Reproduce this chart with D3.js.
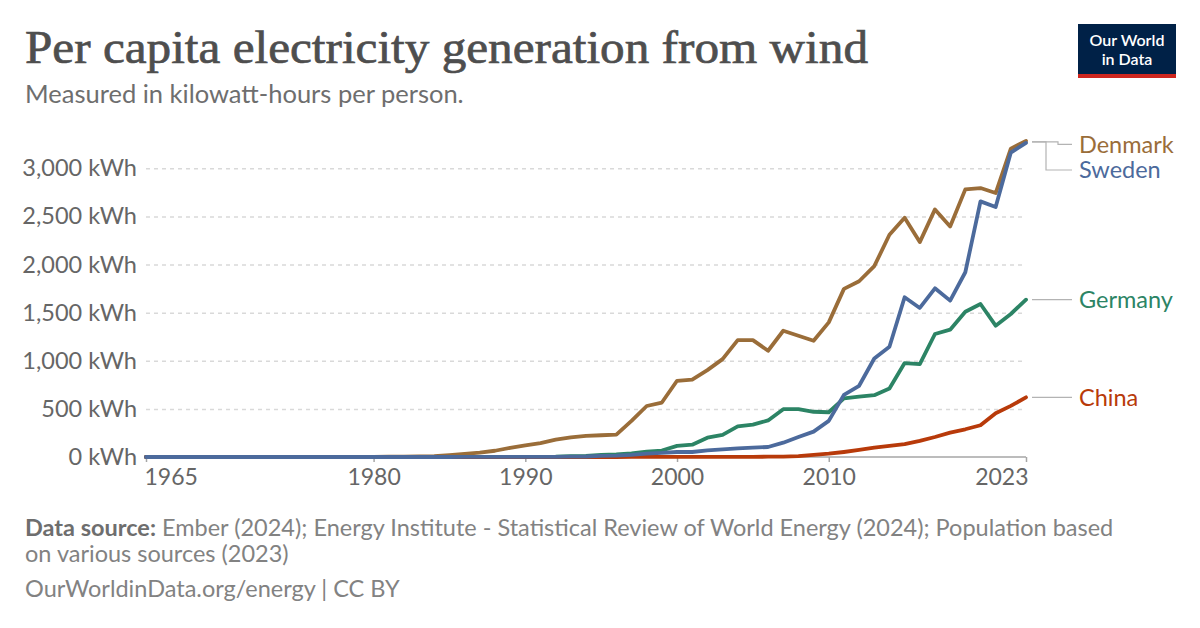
<!DOCTYPE html>
<html>
<head>
<meta charset="utf-8">
<script src="https://cdn.jsdelivr.net/npm/d3@7"></script>
<style>
  html, body { margin: 0; padding: 0; background: #fff; }
  svg { display: block; }
  text { font-family: Lato, "Noto Sans", sans-serif; }
</style>
</head>
<body>
<svg id="chart" width="1200" height="628"></svg>
<script>
// ---------- DATA ----------
const years = d3.range(1965, 2024);
const denmark = [
  0,0,0,0,0,0,0,0,0,0,0,0,0,            // 1965-1977
  0.5,1,2,3,4,6,10,                     // 1978-1984
  20,33,45,65,95,120,145,180,205,220,   // 1985-1994
  226,232,375,530,566,                  // 1995-1999
  792,805,903,1017,1215,1215,1104,1312,1260,1208, // 2000-2009
  1399,1747,1826,1983,2309,2486,2233,2573,2396,2781, // 2010-2019
  2795,2743,3205,3285                   // 2020-2023
];
const sweden = [
  0,0,0,0,0,0,0,0,0,0,0,0,0,0,0,0,0,    // 1965-1981
  0.1,0.1,0.2,0.2,0.3,0.3,0.4,0.4,      // 1982-1989
  0.5,1,2,3,5,11,14,23,36,42,           // 1990-1999
  52,52,69,80,90,97,104,149,208,264,    // 2000-2009
  375,646,740,1024,1146,1660,1549,1753,1625,1920, // 2010-2019
  2656,2597,3163,3264                   // 2020-2023
];
const germany = [
  0,0,0,0,0,0,0,0,0,0,0,0,0,0,0,0,0,0,0,0,0,0,0,0,0, // 1965-1989
  1,2,3,8,11,21,26,37,55,67,            // 1990-1999
  115,128,201,230,318,336,380,497,498,470, // 2000-2009
  465,610,628,642,712,976,965,1278,1323,1510, // 2010-2019
  1590,1365,1486,1635                   // 2020-2023
];
const china = [
  0,0,0,0,0,0,0,0,0,0,0,0,0,0,0,0,0,0,0,0,0,0,0,0,0, // 1965-1989
  0,0,0,0,0,0.1,0.2,0.3,0.4,0.5,        // 1990-1999
  0.5,0.6,0.7,0.8,1,1.5,3,4,10,21,      // 2000-2009
  34,52,73,97,115,134,167,208,253,288,  // 2010-2019
  330,455,531,620                       // 2020-2023
];
const seriesNames = ["Denmark", "Germany", "China", "Sweden"];
const seriesColors = ["#9a6d39", "#2c8465", "#b83a0a", "#4c6a9c"];
const seriesValues = [denmark, germany, china, sweden];
const yTicks = [0, 500, 1000, 1500, 2000, 2500, 3000];
const xTicks = [1965, 1980, 1990, 2000, 2010, 2023];

// ---------- LAYOUT ----------
const svg = d3.select("#chart");
const x = d3.scaleLinear().domain([1965, 2023]).range([146, 1026]);
const y = d3.scaleLinear().domain([0, 3000]).range([457, 168.3]);

// Title
svg.append("text")
  .attr("x", 25).attr("y", 63)
  .attr("fill", "#4e4e4e")
  .attr("stroke", "#4e4e4e").attr("stroke-width", 0.7)
  .style("font-family", "'Liberation Serif', 'DejaVu Serif', serif")
  .style("font-size", "46px")
  .attr("textLength", 843).attr("lengthAdjust", "spacingAndGlyphs")
  .text("Per capita electricity generation from wind");

svg.append("text")
  .attr("x", 25).attr("y", 103)
  .attr("fill", "#6e6e6e")
  .style("font-size", "25.5px")
  .text("Measured in kilowatt-hours per person.");

// Logo
const logo = svg.append("g");
logo.append("rect").attr("x", 1078).attr("y", 24).attr("width", 98).attr("height", 54).attr("fill", "#002147");
logo.append("rect").attr("x", 1078).attr("y", 74).attr("width", 98).attr("height", 4).attr("fill", "#ce261e");
logo.append("text").attr("x", 1127).attr("y", 46).attr("text-anchor", "middle")
  .attr("fill", "#fff").style("font-size", "16px").style("font-weight", "600").text("Our World");
logo.append("text").attr("x", 1127).attr("y", 65).attr("text-anchor", "middle")
  .attr("fill", "#fff").style("font-size", "16px").style("font-weight", "600").text("in Data");

// Grid lines + y labels
const yAxis = d3.axisLeft(y).tickValues(yTicks)
  .tickSize(0)
  .tickFormat(d => d3.format(",")(d) + " kWh");
const gy = svg.append("g").attr("transform", "translate(146,0)").call(yAxis);
gy.select(".domain").remove();
gy.selectAll("text")
  .attr("x", -9)
  .attr("fill", "#666")
  .style("font-size", "23.5px")
  .style("font-family", "Lato, sans-serif");
gy.selectAll(".tick").filter(d => d !== 0).append("line")
  .attr("x1", 0).attr("x2", 880)
  .attr("stroke", "#d9d9d9")
  .attr("stroke-width", 1.5)
  .attr("stroke-dasharray", "4,4");

// X axis
const xAxis = d3.axisBottom(x).tickValues(xTicks).tickSize(5).tickFormat(d3.format("d"));
const gx = svg.append("g").attr("transform", "translate(0,457)").call(xAxis);
gx.select(".domain").attr("stroke", "#a6a6a6").attr("stroke-width", 1.5).attr("d", "M146,0H1026");
gx.selectAll(".tick line").attr("stroke", "#a6a6a6").attr("stroke-width", 1.5);
gx.selectAll(".tick text")
  .attr("y", 12)
  .attr("fill", "#666")
  .style("font-size", "23px")
  .style("font-family", "Lato, sans-serif")
  .attr("text-anchor", d => d === 1965 ? "start" : (d === 2023 ? "end" : "middle"))
  .attr("x", d => d === 1965 ? -2 : (d === 2023 ? 2 : 0));

// Lines
const line = d3.line().x((d, i) => x(years[i])).y(d => y(d));
seriesValues.forEach((vals, k) => {
  svg.append("path")
    .datum(vals)
    .attr("fill", "none")
    .attr("stroke", seriesColors[k])
    .attr("stroke-width", 3.8)
    .attr("stroke-linejoin", "round")
    .attr("stroke-linecap", "round")
    .attr("d", line);
});

// Labels with leader lines
const lab = svg.append("g");
const lx0 = 1032, lx1 = 1072, tx = 1079;
const leader = "#b3b3b3";
const yDen = y(denmark[denmark.length - 1]);
const yGer = y(germany[germany.length - 1]);
const yChi = y(china[china.length - 1]);
lab.append("path").attr("fill", "none").attr("stroke", leader).attr("stroke-width", 1.2)
  .attr("d", `M${lx0},${yDen + 1}H1058V${yDen + 3.5}H${lx1}`);
lab.append("path").attr("fill", "none").attr("stroke", leader).attr("stroke-width", 1.2)
  .attr("d", `M${lx0},${yDen + 1}H1046V170H${lx1}`);
lab.append("path").attr("fill", "none").attr("stroke", leader).attr("stroke-width", 1.2)
  .attr("d", `M${lx0},${yGer}H${lx1}`);
lab.append("path").attr("fill", "none").attr("stroke", leader).attr("stroke-width", 1.2)
  .attr("d", `M${lx0},${yChi}H${lx1}`);

const labels = [
  {name: "Denmark", color: seriesColors[0], y: yDen + 3.5},
  {name: "Sweden", color: seriesColors[3], y: 170},
  {name: "Germany", color: seriesColors[1], y: yGer},
  {name: "China", color: seriesColors[2], y: yChi}
];
lab.selectAll("text.lbl").data(labels).enter().append("text")
  .attr("class", "lbl")
  .attr("x", tx).attr("y", d => d.y).attr("dy", "0.35em")
  .attr("fill", d => d.color)
  .style("font-size", "23.5px")
  .text(d => d.name);

// Footer
const foot = svg.append("g").attr("fill", "#828282").style("font-size", "23.5px");
const f1 = foot.append("text").attr("x", 25).attr("y", 536);
f1.append("tspan").style("font-weight", "bold").attr("fill", "#6e6e6e").text("Data source:");
f1.append("tspan").text(" Ember (2024); Energy Institute - Statistical Review of World Energy (2024); Population based");
foot.append("text").attr("x", 25).attr("y", 562).text("on various sources (2023)");
foot.append("text").attr("x", 25).attr("y", 597).text("OurWorldinData.org/energy | CC BY");
</script>
</body>
</html>
